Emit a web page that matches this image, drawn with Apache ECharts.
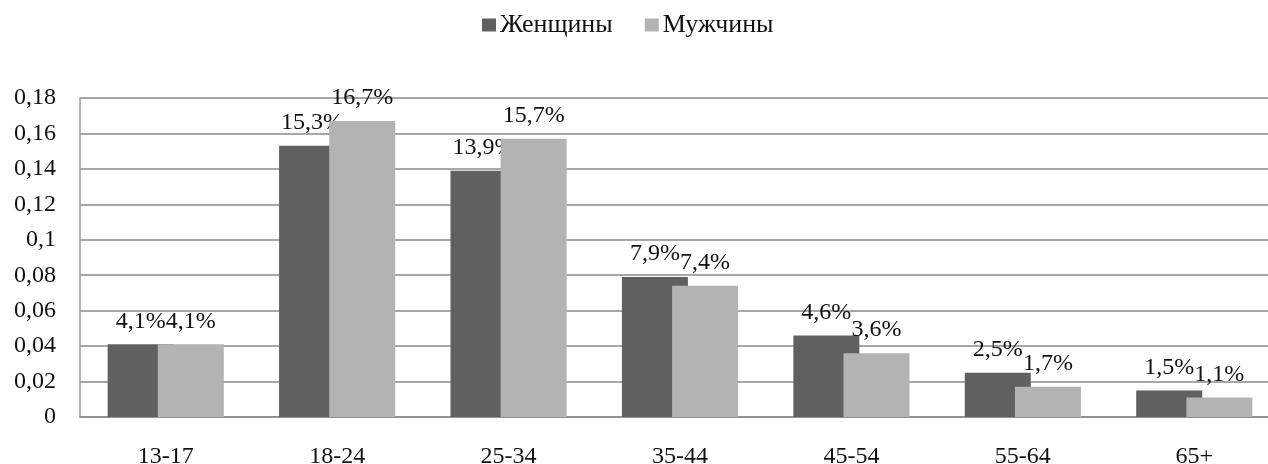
<!DOCTYPE html>
<html>
<head>
<meta charset="utf-8">
<script src="https://cdn.jsdelivr.net/npm/echarts@6/dist/echarts.min.js"></script>
<style>
  html, body { margin: 0; padding: 0; background: #fff; }
  #chart { width: 1268px; height: 464px; }
</style>
</head>
<body>
<div id="chart"></div>
<script>
// Age groups and shares of each gender
const ageGroups = ['13-17', '18-24', '25-34', '35-44', '45-54', '55-64', '65+'];
const women = [0.041, 0.153, 0.139, 0.079, 0.046, 0.025, 0.015];
const men = [0.041, 0.167, 0.157, 0.074, 0.036, 0.017, 0.011];
const seriesNames = ['Женщины', 'Мужчины'];

const FONT = '"Liberation Serif", "DejaVu Serif", serif';
const TEXT = '#111';

function pctLabel(p) {
  return (p.value * 100).toFixed(1).replace('.', ',') + '%';
}
function axisNum(v) {
  return String(+v.toFixed(2)).replace('.', ',');
}

const labelStyle = {
  show: true,
  position: 'top',
  distance: 11,
  formatter: pctLabel,
  fontFamily: FONT,
  fontSize: 24,
  color: TEXT
};

const chart = echarts.init(document.getElementById('chart'), null, { renderer: 'canvas' });
chart.setOption({
  animation: false,
  backgroundColor: '#fff',
  legend: {
    top: 7,
    left: 477,
    itemWidth: 14,
    itemHeight: 13,
    itemGap: 32,
    icon: 'rect',
    textStyle: { fontFamily: FONT, fontSize: 26, color: TEXT, padding: [0, 0, 0, -1] },
    data: seriesNames
  },
  grid: { left: 80, top: 98, width: 1200, height: 319, containLabel: false, outerBoundsMode: 'none' },
  xAxis: {
    type: 'category',
    data: ageGroups,
    axisTick: { show: false },
    axisLine: { lineStyle: { color: '#8a8a8a', width: 1.5 } },
    axisLabel: { margin: 28, fontFamily: FONT, fontSize: 24, color: TEXT },
    splitLine: { show: false }
  },
  yAxis: {
    type: 'value',
    min: 0,
    max: 0.18,
    interval: 0.02,
    axisLine: { show: true, lineStyle: { color: '#9a9a9a', width: 1.5 } },
    axisTick: { show: false },
    axisLabel: { margin: 24, fontFamily: FONT, fontSize: 24, color: TEXT, formatter: axisNum },
    splitLine: { lineStyle: { color: '#8a8a8a', width: 1.5 } }
  },
  series: [
    {
      name: seriesNames[0],
      type: 'bar',
      data: women,
      barWidth: 66,
      barGap: '-24%',
      itemStyle: { color: '#606060' },
      label: labelStyle,
      z: 2
    },
    {
      name: seriesNames[1],
      type: 'bar',
      data: men,
      barWidth: 66,
      barGap: '-24%',
      itemStyle: { color: '#b3b3b3' },
      label: labelStyle,
      z: 3
    }
  ]
});
</script>
</body>
</html>
